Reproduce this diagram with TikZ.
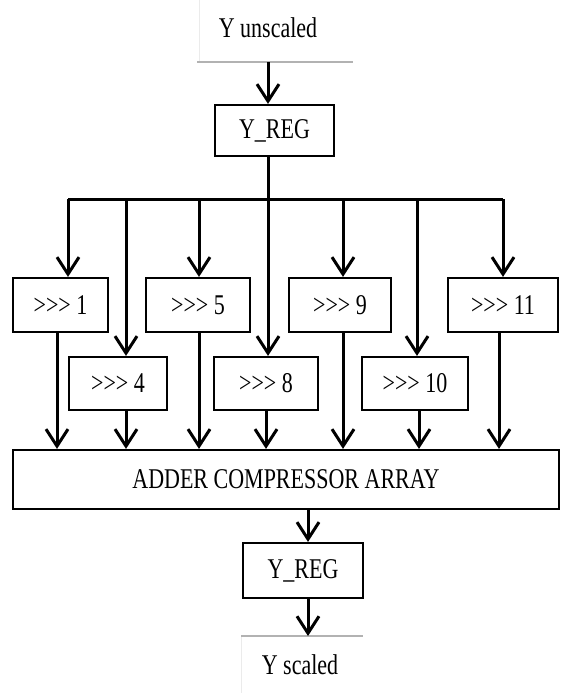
\documentclass[tikz,border=0pt]{standalone}
\usepackage{fontspec}
\setmainfont{Liberation Serif}[Ligatures=TeXOff]
\usepackage{graphicx}
\usetikzlibrary{arrows.meta}
\newcommand{\stx}[1]{\scalebox{1}[1.3]{#1}}
\begin{document}
\begin{tikzpicture}[x=1pt,y=-1pt,
  blk/.style={draw=black, line width=2.2pt, inner sep=0pt, fill=white, font=\fontsize{22}{24}\selectfont},
  lbl/.style={inner sep=0pt, font=\fontsize{22}{24}\selectfont},
  ln/.style={line width=3pt, draw=black},
  arr/.style={line width=3pt, draw=black, -{Straight Barb[length=17pt,width=22pt]}},
  edge/.style={line width=1.2pt, draw=black!30},
  faint/.style={line width=1pt, draw=black!8}
]
\useasboundingbox (0,0) rectangle (560,693);

% input / output areas
\node[lbl] (uin) at (268,28) {\stx{Y unscaled}};
\coordinate (uinl) at (197,62);
\coordinate (uinr) at (353,62);
\coordinate (uintop) at (199,0);
\draw[faint] (uintop) -- (uintop |- uinl);
\draw[edge] (uinl) -- (uinr);

\node[lbl] (yout) at (300,665) {\stx{Y scaled}};
\coordinate (outl) at (241,636);
\coordinate (outr) at (363,636);
\coordinate (outbot) at (241,693);
\draw[faint] (outl) -- (outbot);
\draw[edge] (outl) -- (outr);

% registers
\node[blk, minimum width=119pt, minimum height=51pt] (yreg1) at (274.5,130.5) {\stx{Y\_REG}};
\node[blk, minimum width=120pt, minimum height=55pt] (yreg2) at (303,570.5) {\stx{Y\_REG}};

% shifters
\node[blk, minimum width=95pt,  minimum height=54pt] (b1)  at (60.5,305)  {\stx{>>> 1}};
\node[blk, minimum width=98pt,  minimum height=53pt] (b4)  at (118,383.5) {\stx{>>> 4}};
\node[blk, minimum width=104pt, minimum height=54pt] (b5)  at (198,305)   {\stx{>>> 5}};
\node[blk, minimum width=104pt, minimum height=53pt] (b8)  at (266,383.5) {\stx{>>> 8}};
\node[blk, minimum width=102pt, minimum height=54pt] (b9)  at (340,305)   {\stx{>>> 9}};
\node[blk, minimum width=106pt, minimum height=53pt] (b10) at (415,383.5) {\stx{>>> 10}};
\node[blk, minimum width=110pt, minimum height=54pt] (b11) at (503,305)   {\stx{>>> 11}};

% adder
\node[blk, minimum width=546pt, minimum height=59pt] (adder) at (286,479.5) {\stx{ADDER COMPRESSOR ARRAY}};

% input arrow
\draw[arr] (uinl -| uin) -- (uin |- yreg1.north);

% bus
\coordinate (busl) at (68,199);
\coordinate (busr) at (503,199);
\draw[ln] (busl) -- (busr);
\draw[arr] (yreg1.south -| uin) -- (uin |- b8.north);
\draw[arr] (busl) -- (busl |- b1.north);
\draw[arr] ([xshift=8pt]b4.north |- busl) -- ([xshift=8pt]b4.north);
\draw[arr] ([xshift=1pt]b5.north |- busl) -- ([xshift=1pt]b5.north);
\draw[arr] ([xshift=3pt]b9.north |- busl) -- ([xshift=3pt]b9.north);
\draw[arr] ([xshift=2pt]b10.north |- busl) -- ([xshift=2pt]b10.north);
\draw[arr] (busr) -- (busr |- b11.north);

% shifters to adder
\draw[arr] ([xshift=-3.5pt]b1.south) -- ([xshift=-3.5pt]b1.south |- adder.north);
\draw[arr] ([xshift=8pt]b4.south) -- ([xshift=8pt]b4.south |- adder.north);
\draw[arr] ([xshift=1pt]b5.south) -- ([xshift=1pt]b5.south |- adder.north);
\draw[arr] (b8.south) -- (b8.south |- adder.north);
\draw[arr] ([xshift=3pt]b9.south) -- ([xshift=3pt]b9.south |- adder.north);
\draw[arr] ([xshift=4pt]b10.south) -- ([xshift=4pt]b10.south |- adder.north);
\draw[arr] ([xshift=-4pt]b11.south) -- ([xshift=-4pt]b11.south |- adder.north);

% output chain
\draw[arr] ([xshift=5pt]yreg2.north |- adder.south) -- ([xshift=5pt]yreg2.north);
\draw[arr] ([xshift=5pt]yreg2.south) -- ([xshift=5pt]yreg2.south |- outl);
\end{tikzpicture}
\end{document}
